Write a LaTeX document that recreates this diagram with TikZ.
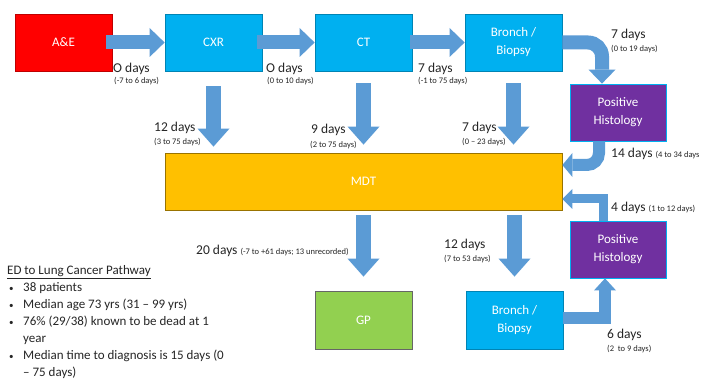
\documentclass[tikz,border=0pt]{standalone}
\usepackage{fontspec}
\setmainfont{Carlito}
\usetikzlibrary{arrows.meta}
\definecolor{aered}{HTML}{FF0000}
\definecolor{scanblue}{HTML}{00B0F0}
\definecolor{histpurple}{HTML}{7030A0}
\definecolor{mdtorange}{HTML}{FFC000}
\definecolor{gpgreen}{HTML}{92D050}
\definecolor{flowblue}{HTML}{5B9BD5}
\newcommand{\smallbul}{\hspace{2pt}{\fontsize{9}{9}\selectfont •}}
\begin{document}
\begin{tikzpicture}[x=1pt,y=-1pt,
    box/.style={draw, line width=0.8pt, minimum width=97pt, minimum height=57pt,
      inner sep=0pt, align=center, text=white, font=\fontsize{13}{18}\selectfont},
    days/.style={anchor=base west, inner sep=0pt, text=black!85, font=\fontsize{13.5}{15}\selectfont},
    spread/.style={anchor=base west, inner sep=0pt, text=black!85, font=\fontsize{8.5}{10}\selectfont},
    fat/.style={flowblue, line width=14pt, -{Triangle[width=29pt,length=15pt,line width=0pt]}},
    fatdown/.style={flowblue, line width=15pt, -{Triangle[width=32pt,length=18pt,line width=0pt]}},
  ]
  \path[fill=white, use as bounding box] (0,0) rectangle (715,379);

  % top row
  \node[box, fill=aered, draw=aered!75!black] (ae) at (63.5,42.5) {A\&E};
  \node[box, fill=scanblue, draw=scanblue!75!black] (cxr) at (213.5,42.5) {CXR};
  \node[box, fill=scanblue, draw=scanblue!75!black] (ct) at (363.5,42.5) {CT};
  \node[box, fill=scanblue, draw=scanblue!75!black] (bronch) at (513.5,42.5) {Bronch /\\Biopsy};
  \node[box, fill=histpurple, draw=scanblue, minimum width=96pt] (histA) at (618,112.5) {Positive\\Histology};

  % MDT and below
  \node[box, fill=mdtorange, draw=mdtorange!60!black, minimum width=397pt] (mdt) at (363.5,181.5) {MDT};
  \node[box, fill=histpurple, draw=scanblue, minimum width=96pt] (histB) at (618,249.5) {Positive\\Histology};
  \node[box, fill=gpgreen, draw=black!60, minimum height=58pt] (gp) at (363.5,320) {GP};
  \node[box, fill=scanblue, draw=scanblue!75!black, minimum height=58pt] (bronchB) at (514.5,320) {Bronch /\\Biopsy};

  % arrows
  \draw[fat] ([xshift=-6pt]ae.east) -- (cxr.west);
  \draw[fat] ([xshift=-5pt]cxr.east) -- (ct.west);
  \draw[fat] ([xshift=-2pt]ct.east) -- (bronch.west);
  \draw[fatdown] ([yshift=-15pt]cxr.south) -- ([yshift=6pt]cxr.south |- mdt.north);
  \draw[fatdown] ([yshift=-12pt]ct.south) -- ([yshift=8pt]ct.south |- mdt.north);
  \draw[fatdown] ([yshift=-12pt]bronch.south) -- ([yshift=8pt]bronch.south |- mdt.north);
  \draw[flowblue, line width=14pt, rounded corners=14pt, -{Triangle[width=27pt,length=14pt,line width=0pt]}]
    (bronch.east) -| ([xshift=-16pt]histA.north);
  \draw[flowblue, line width=12pt, rounded corners=12pt, -{Triangle[width=24pt,length=10pt,line width=0pt]}]
    ([xshift=-19pt]histA.south) |- ([yshift=16.5pt]mdt.east);
  \draw[flowblue, line width=9pt, -{Triangle[width=20pt,length=10pt,line width=0pt]}]
    ([xshift=-15pt]histB.north) |- ([yshift=-17.5pt]mdt.east);
  \draw[fatdown] ([yshift=-5pt]mdt.south -| gp.north) -- ([yshift=14pt]gp.north);
  \draw[fatdown] ([yshift=-5pt]mdt.south -| bronchB.north) -- ([yshift=14pt]bronchB.north);
  \draw[flowblue, line width=12pt, -{Triangle[width=22pt,length=12pt,line width=0pt]}]
    ([yshift=2pt]bronchB.east) -| ([xshift=-13pt]histB.south);

  % times
  \node[days] (tCxr) at (113,72.5) {O days};
  \node[spread] (rCxr) at (114,84) {(-7 to 6 days)};
  \node[days] (tCt) at (266,72.5) {O days};
  \node[spread] (rCt) at (267,84) {(0 to 10 days)};
  \node[days] (tBronch) at (418,72.5) {7 days};
  \node[spread] (rBronch) at (418,84) {(-1 to 75 days)};
  \node[days] (tCxrMdt) at (154,132) {12 days};
  \node[spread] (rCxrMdt) at (154,144.5) {(3 to 75 days)};
  \node[days] (tCtMdt) at (311,134) {9 days};
  \node[spread] (rCtMdt) at (310,147.5) {(2 to 75 days)};
  \node[days] (tBrMdt) at (462,132) {7 days};
  \node[spread] (rBrMdt) at (462,144.5) {(0 – 23 days)};
  \node[days] (tHistA) at (611,39) {7 days};
  \node[spread] (rHistA) at (611,52) {(0 to 19 days)};
  \node[days] (tHistMdt) at (611,158) {14 days \fontsize{8.5}{10}\selectfont(4 to 34 days};
  \node[days] (tHistB) at (611,212) {4 days \fontsize{8.5}{10}\selectfont(1 to 12 days)};
  \node[days] (tGp) at (196,255) {20 days \fontsize{8.5}{10}\selectfont(-7 to +61 days; 13 unrecorded)};
  \node[days] (tBrB) at (444,249) {12 days};
  \node[spread] (rBrB) at (444,262) {(7 to 53 days)};
  \node[days] (tSix) at (607,338) {6 days};
  \node[spread] (rSix) at (607,352) {(2\ \ to 9 days)};

  % summary
  \node[anchor=base west, inner sep=0pt, text=black!85, font=\fontsize{13}{17}\selectfont] (notes) at (7,275) {%
    \begin{tabular}[t]{@{}p{16pt}@{}l@{}}
      \multicolumn{2}{@{}l@{}}{\underline{ED to Lung Cancer Pathway}}\\
      \smallbul & 38 patients\\
      \smallbul & Median age 73 yrs (31 – 99 yrs)\\
      \smallbul & 76\% (29/38) known to be dead at 1\\
       & year\\
      \smallbul & Median time to diagnosis is 15 days (0\\
       & – 75 days)
    \end{tabular}};
\end{tikzpicture}
\end{document}
